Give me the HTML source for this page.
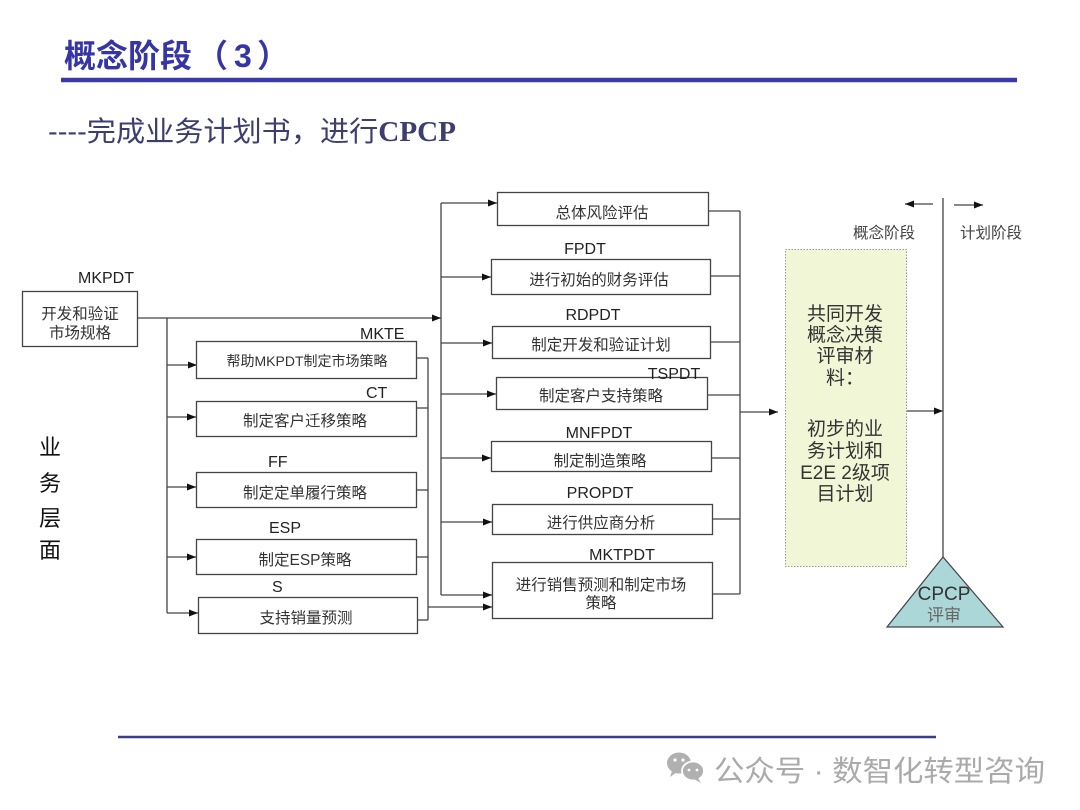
<!DOCTYPE html>
<html>
<head>
<meta charset="utf-8">
<style>
html,body{margin:0;padding:0;background:#fff;}
svg{display:block;}
.cj{font-family:"Liberation Sans","Noto Sans CJK SC",sans-serif;}
</style>
</head>
<body>
<svg width="1080" height="810" viewBox="0 0 1080 810" xmlns="http://www.w3.org/2000/svg">
<defs>
<marker id="ar" markerWidth="9" markerHeight="7" refX="9" refY="3.5" orient="auto" markerUnits="userSpaceOnUse">
<path d="M0,0 L9,3.5 L0,7 z" fill="#111"/>
</marker>
</defs>

<!-- Title -->
<text y="67" font-family="Liberation Sans,Noto Sans CJK SC,sans-serif" font-size="32" font-weight="bold" fill="#3535a6"><tspan x="64">概念阶段</tspan><tspan x="196">（</tspan><tspan x="234">3</tspan><tspan x="257">）</tspan></text>
<line x1="61" y1="80" x2="1017" y2="80" stroke="#3a3aa8" stroke-width="4.5"/>

<!-- Subtitle -->
<text x="48" y="141" font-size="28" fill="#3d3d70" textLength="408" lengthAdjust="spacingAndGlyphs"><tspan font-family="Liberation Sans,sans-serif">----</tspan><tspan font-family="Noto Sans CJK SC,sans-serif">完成业务计划书，进行</tspan><tspan font-family="Liberation Serif,serif" font-weight="bold">CPCP</tspan></text>

<g stroke="#444" stroke-width="1.3" fill="none">
<rect x="22.5" y="291.5" width="115" height="55"/>
<line x1="138" y1="318" x2="441" y2="318" marker-end="url(#ar)"/>
<line x1="167" y1="318" x2="167" y2="613"/>
<line x1="167" y1="365" x2="197" y2="365" marker-end="url(#ar)"/>
<line x1="167" y1="417" x2="196" y2="417" marker-end="url(#ar)"/>
<line x1="167" y1="487" x2="196" y2="487" marker-end="url(#ar)"/>
<line x1="167" y1="557" x2="196" y2="557" marker-end="url(#ar)"/>
<line x1="167" y1="613" x2="198" y2="613" marker-end="url(#ar)"/>
<rect x="196.5" y="341.5" width="220" height="37"/>
<rect x="196.5" y="401.5" width="220" height="35"/>
<rect x="196.5" y="472.5" width="220" height="35"/>
<rect x="196.5" y="539.5" width="220" height="35"/>
<rect x="198.5" y="597.5" width="219" height="36"/>
<line x1="417" y1="358" x2="428" y2="358"/>
<line x1="416" y1="408" x2="428" y2="408"/>
<line x1="416" y1="490" x2="428" y2="490"/>
<line x1="416" y1="557" x2="428" y2="557"/>
<line x1="417" y1="620" x2="428" y2="620"/>
<line x1="428" y1="358" x2="428" y2="620"/>
<line x1="428" y1="607" x2="492" y2="607" marker-end="url(#ar)"/>

<line x1="441" y1="203" x2="441" y2="595"/>
<line x1="441" y1="203" x2="497" y2="203" marker-end="url(#ar)"/>
<line x1="441" y1="277" x2="491" y2="277" marker-end="url(#ar)"/>
<line x1="441" y1="343" x2="492" y2="343" marker-end="url(#ar)"/>
<line x1="441" y1="394" x2="496" y2="394" marker-end="url(#ar)"/>
<line x1="441" y1="458" x2="491" y2="458" marker-end="url(#ar)"/>
<line x1="441" y1="522" x2="492" y2="522" marker-end="url(#ar)"/>
<line x1="441" y1="595" x2="492" y2="595" marker-end="url(#ar)"/>
<rect x="497.5" y="192.5" width="211" height="33"/>
<rect x="491.5" y="259.5" width="219" height="35"/>
<rect x="492.5" y="326.5" width="218" height="32"/>
<rect x="496.5" y="377.5" width="211" height="32"/>
<rect x="491.5" y="441.5" width="220" height="30"/>
<rect x="492.5" y="504.5" width="220" height="30"/>
<rect x="492.5" y="562.5" width="220" height="56"/>
<line x1="708" y1="211" x2="740" y2="211"/>
<line x1="710" y1="276" x2="740" y2="276"/>
<line x1="710" y1="342" x2="740" y2="342"/>
<line x1="707" y1="395" x2="740" y2="395"/>
<line x1="711" y1="458" x2="740" y2="458"/>
<line x1="712" y1="519" x2="740" y2="519"/>
<line x1="712" y1="594" x2="740" y2="594"/>
<line x1="740" y1="211" x2="740" y2="594"/>
<line x1="740" y1="412" x2="778" y2="412" marker-end="url(#ar)"/>

<line x1="906" y1="411" x2="943" y2="411" marker-end="url(#ar)"/>
<line x1="943" y1="198" x2="943" y2="558"/>
<line x1="933" y1="204" x2="905" y2="204" marker-end="url(#ar)"/>
<line x1="954" y1="205" x2="983" y2="205" marker-end="url(#ar)"/>
</g>

<rect x="785.5" y="249.5" width="121" height="317" fill="#f1f7d6" stroke="#999" stroke-width="1" stroke-dasharray="1.5,1.5"/>
<polygon points="943,557 887,627 1003,627" fill="#acd7d8" stroke="#444" stroke-width="1.2"/>

<g class="cj" fill="#333" font-size="15.5" text-anchor="middle">
<text x="80" y="319">开发和验证</text>
<text x="80" y="338">市场规格</text>
<text x="307" y="366" font-size="14">帮助MKPDT制定市场策略</text>
<text x="305" y="426">制定客户迁移策略</text>
<text x="305" y="498">制定定单履行策略</text>
<text x="305" y="565">制定ESP策略</text>
<text x="306" y="623">支持销量预测</text>

<text x="602" y="218">总体风险评估</text>
<text x="599" y="285">进行初始的财务评估</text>
<text x="601" y="350">制定开发和验证计划</text>
<text x="601" y="401">制定客户支持策略</text>
<text x="600" y="466">制定制造策略</text>
<text x="601" y="528">进行供应商分析</text>
<text x="601" y="590">进行销售预测和制定市场</text>
<text x="601" y="608">策略</text>
</g>

<g font-family="Liberation Sans,sans-serif" fill="#222" font-size="16">
<text x="78" y="283">MKPDT</text>
<text x="360" y="339">MKTE</text>
<text x="366" y="398">CT</text>
<text x="268" y="467">FF</text>
<text x="269" y="533">ESP</text>
<text x="272" y="592">S</text>
<text x="585" y="254" text-anchor="middle">FPDT</text>
<text x="593" y="320" text-anchor="middle">RDPDT</text>
<text x="674" y="379" text-anchor="middle">TSPDT</text>
<text x="599" y="438" text-anchor="middle">MNFPDT</text>
<text x="600" y="498" text-anchor="middle">PROPDT</text>
<text x="622" y="560" text-anchor="middle">MKTPDT</text>
</g>

<g class="cj" fill="#111" font-size="22" text-anchor="middle">
<text x="50" y="455">业</text>
<text x="50" y="491">务</text>
<text x="50" y="526">层</text>
<text x="50" y="558">面</text>
</g>

<g class="cj" fill="#333" font-size="19" text-anchor="middle">
<text x="845" y="320">共同开发</text>
<text x="845" y="341">概念决策</text>
<text x="845" y="362">评审材</text>
<text x="845" y="384">料：</text>
<text x="845" y="435">初步的业</text>
<text x="845" y="457">务计划和</text>
<text x="845" y="479">E2E 2级项</text>
<text x="845" y="500">目计划</text>
</g>

<g class="cj" fill="#444" font-size="15.5">
<text x="853" y="238">概念阶段</text>
<text x="960" y="238">计划阶段</text>
</g>

<text x="944" y="600" text-anchor="middle" font-family="Liberation Sans,sans-serif" font-size="19" fill="#333">CPCP</text>
<text x="944" y="621" text-anchor="middle" class="cj" font-size="17" fill="#666">评审</text>

<line x1="118" y1="737" x2="936" y2="737" stroke="#3c3c8c" stroke-width="2.5"/>

<g fill="#b0b0b0">
<ellipse cx="679" cy="763" rx="12" ry="10.5"/>
<path d="M672,771 L670,777 L677,772 z"/>
<ellipse cx="693" cy="771" rx="11" ry="9.5" stroke="#fff" stroke-width="1.8"/>
<path d="M698,778 L701,783 L694,779 z"/>
<circle cx="675" cy="760" r="1.6" fill="#fff"/>
<circle cx="683" cy="760" r="1.6" fill="#fff"/>
<circle cx="689" cy="770" r="1.4" fill="#fff"/>
<circle cx="697" cy="770" r="1.4" fill="#fff"/>
</g>
<text x="714" y="781" font-family="Liberation Sans,Noto Sans CJK SC,sans-serif" font-size="29" fill="#aaa" textLength="331" lengthAdjust="spacingAndGlyphs">公众号 · 数智化转型咨询</text>
</svg>
</body>
</html>
